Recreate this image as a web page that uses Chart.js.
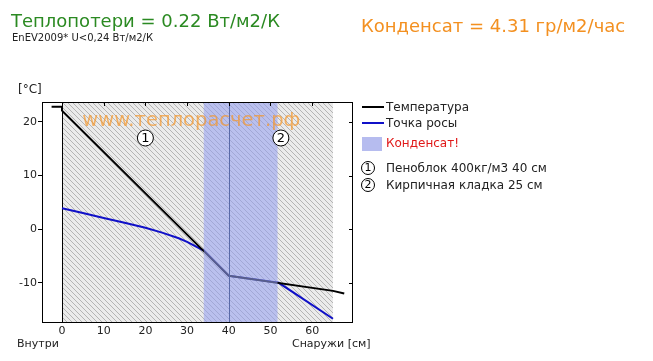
<!DOCTYPE html>
<html>
<head>
<meta charset="utf-8">
<script src="https://cdn.jsdelivr.net/npm/chart.js@4/dist/chart.umd.min.js"></script>
<style>
body{margin:0;background:#fff;font-family:"DejaVu Sans",Verdana,sans-serif;}
#wrap{position:relative;width:653px;height:361px;overflow:hidden;}
#chart{position:absolute;left:0;top:0;}
.t{position:absolute;white-space:nowrap;line-height:normal;}
.ln{position:absolute;height:2px;width:22px;}
.circ{position:absolute;width:12px;height:12px;border:1px solid #000;border-radius:50%;font-size:11px;line-height:12px;text-align:center;color:#000;}
</style>
</head>
<body>
<div id="wrap">
  <canvas id="chart" width="653" height="361"></canvas>

  <div class="t" style="left:11px;top:10px;font-size:18px;color:#2b8a22">Теплопотери = 0.22 Вт/м2/К</div>
  <div class="t" style="left:12px;top:32px;font-size:10px;color:#222">EnEV2009* U&lt;0,24 Вт/м2/К</div>
  <div class="t" style="left:361px;top:15px;font-size:18px;color:#f39020">Конденсат = 4.31 гр/м2/час</div>

  <div class="t" style="left:18px;top:82px;font-size:12px;color:#222">[°C]</div>
  <div class="t" style="left:17px;top:337px;font-size:11px;color:#222">Внутри</div>
  <div class="t" style="left:292px;top:337px;font-size:11px;color:#222">Снаружи [см]</div>

  <!-- legend -->
  <div class="ln" style="left:362px;top:106px;background:#000"></div>
  <div class="t" style="left:386px;top:100px;font-size:12px;color:#222">Температура</div>
  <div class="ln" style="left:362px;top:122px;background:#1010c8"></div>
  <div class="t" style="left:386px;top:116px;font-size:12px;color:#222">Точка росы</div>
  <div class="ln" style="left:362px;top:137px;height:14px;width:20px;background:#b6bcef"></div>
  <div class="t" style="left:386px;top:136px;font-size:12px;color:#e01818">Конденсат!</div>
  <div class="circ" style="left:361px;top:161px">1</div>
  <div class="t" style="left:386px;top:161px;font-size:12px;color:#222">Пеноблок 400кг/м3 40 см</div>
  <div class="circ" style="left:361px;top:178px">2</div>
  <div class="t" style="left:386px;top:178px;font-size:12px;color:#222">Кирпичная кладка 25 см</div>
</div>

<script>
// thickness of the wall [cm], temperatures [°C]
var layerEdges = [0, 40, 65];
var condZone = [34, 51.7];

var tempX = [-2.5, 0, 0, 40, 65, 67.7];
var tempY = [22.8, 22.8, 22.1, -8.7, -11.5, -12.0];

var dewX = [0, 5, 10, 15, 20, 24, 28, 30, 34, 40, 52, 65];
var dewY = [3.9, 3.0, 2.1, 1.2, 0.25, -0.65, -1.7, -2.35, -4.0, -8.7, -10.0, -16.7];

var xTicks = [0, 10, 20, 30, 40, 50, 60];
var yTicks = [-10, 0, 10, 20];

var FONT = '"DejaVu Sans", Verdana, sans-serif';

function pts(xs, ys){
    return xs.map(function(x, i){ return {x: x, y: ys[i]}; });
}

//hatch for the wall
var hatch = (function(){
    var c = document.createElement('canvas');
    c.width = 5; c.height = 5;
    var g = c.getContext('2d');
    g.fillStyle = '#ebebeb';
    g.fillRect(0, 0, 5, 5);
    g.strokeStyle = '#b4b4b4';
    g.lineWidth = 1;
    g.beginPath();
    g.moveTo(-1, -1); g.lineTo(6, 6);
    g.moveTo(-1, 4); g.lineTo(1, 6);
    g.moveTo(4, -1); g.lineTo(6, 1);
    g.stroke();
    return g.createPattern(c, 'repeat');
})();

var wallPlugin = {
    id: 'wall',
    beforeDatasetsDraw: function(chart){
        var ctx = chart.ctx, a = chart.chartArea, x = chart.scales.x;
        var x0 = x.getPixelForValue(layerEdges[0]);
        var x1 = x.getPixelForValue(layerEdges[layerEdges.length - 1]);
        ctx.save();
        ctx.fillStyle = hatch;
        ctx.fillRect(x0, a.top, x1 - x0, a.bottom - a.top);
        ctx.strokeStyle = '#000';
        ctx.lineWidth = 1;
        ctx.beginPath();
        ctx.moveTo(Math.round(x0) + 0.5, a.top);
        ctx.lineTo(Math.round(x0) + 0.5, a.bottom);
        ctx.stroke();
        ctx.restore();
    },
    afterDatasetsDraw: function(chart){
        var ctx = chart.ctx, a = chart.chartArea, x = chart.scales.x, y = chart.scales.y;
        ctx.save();
        //condensation zone
        var c0 = x.getPixelForValue(condZone[0]), c1 = x.getPixelForValue(condZone[1]);
        ctx.fillStyle = 'rgba(150,160,240,0.58)';
        ctx.fillRect(c0, a.top, c1 - c0, a.bottom - a.top);

        //inner layer boundaries
        ctx.strokeStyle = '#5a6aa8';
        ctx.lineWidth = 1;
        for(var i = 1; i < layerEdges.length - 1; i++){
            var px = Math.round(x.getPixelForValue(layerEdges[i])) + 0.5;
            ctx.beginPath(); ctx.moveTo(px, a.top); ctx.lineTo(px, a.bottom); ctx.stroke();
        }

        //watermark
        ctx.font = '19.5px ' + FONT;
        ctx.fillStyle = 'rgba(245,150,40,0.7)';
        ctx.textAlign = 'center';
        ctx.textBaseline = 'alphabetic';
        ctx.fillText('www.теплорасчет.рф', x.getPixelForValue(31), a.top + 24);

        //layer numbers
        ctx.font = '13px ' + FONT;
        ctx.textBaseline = 'middle';
        for(var j = 0; j < layerEdges.length - 1; j++){
            var cx = x.getPixelForValue((layerEdges[j] + layerEdges[j + 1]) / 2);
            var cy = a.top + 36;
            ctx.beginPath();
            ctx.arc(cx, cy, 8, 0, Math.PI * 2);
            ctx.fillStyle = '#fff';
            ctx.fill();
            ctx.strokeStyle = '#000';
            ctx.stroke();
            ctx.fillStyle = '#000';
            ctx.fillText(String(j + 1), cx, cy + 0.5);
        }

        //frame and inner ticks
        ctx.strokeStyle = '#000';
        ctx.lineWidth = 1;
        ctx.strokeRect(a.left + 0.5, a.top + 0.5, a.right - a.left - 1, a.bottom - a.top);
        ctx.beginPath();
        xTicks.forEach(function(v){
            var px = Math.round(x.getPixelForValue(v)) + 0.5;
            ctx.moveTo(px, a.top); ctx.lineTo(px, a.top + 4);
        });
        yTicks.forEach(function(v){
            var py = Math.round(y.getPixelForValue(v)) + 0.5;
            ctx.moveTo(a.right, py); ctx.lineTo(a.right - 4, py);
        });
        ctx.stroke();
        ctx.restore();
    }
};

function keepTicks(list){
    return function(scale){
        scale.ticks = list.map(function(v){ return {value: v}; });
    };
}

var ctx = document.getElementById('chart');
var chart = new Chart(ctx, {
    type: 'line',
    data: {
        datasets: [
            {label: 'Температура', data: pts(tempX, tempY), borderColor: '#000', borderWidth: 2, pointRadius: 0, tension: 0},
            {label: 'Точка росы', data: pts(dewX, dewY), borderColor: '#1010c8', borderWidth: 2, pointRadius: 0, tension: 0}
        ]
    },
    options: {
        responsive: false,
        animation: false,
        events: [],
        layout: {padding: {top: 102, right: 300, left: 0, bottom: 0}},
        plugins: {legend: {display: false}, tooltip: {enabled: false}},
        scales: {
            x: {
                type: 'linear', min: -4.8, max: 69.8,
                afterBuildTicks: keepTicks(xTicks),
                afterFit: function(s){ s.height = 39; },
                grid: {display: false, drawTicks: false},
                border: {display: false},
                ticks: {padding: 3, color: '#222', font: {family: FONT, size: 11}}
            },
            y: {
                type: 'linear', min: -17.3, max: 23.7,
                afterBuildTicks: keepTicks(yTicks),
                afterFit: function(s){ s.width = 42; },
                grid: {drawOnChartArea: false, tickLength: 4, color: '#000'},
                border: {display: false},
                ticks: {padding: 1, color: '#222', font: {family: FONT, size: 11}}
            }
        }
    },
    plugins: [wallPlugin]
});
</script>
</body>
</html>
